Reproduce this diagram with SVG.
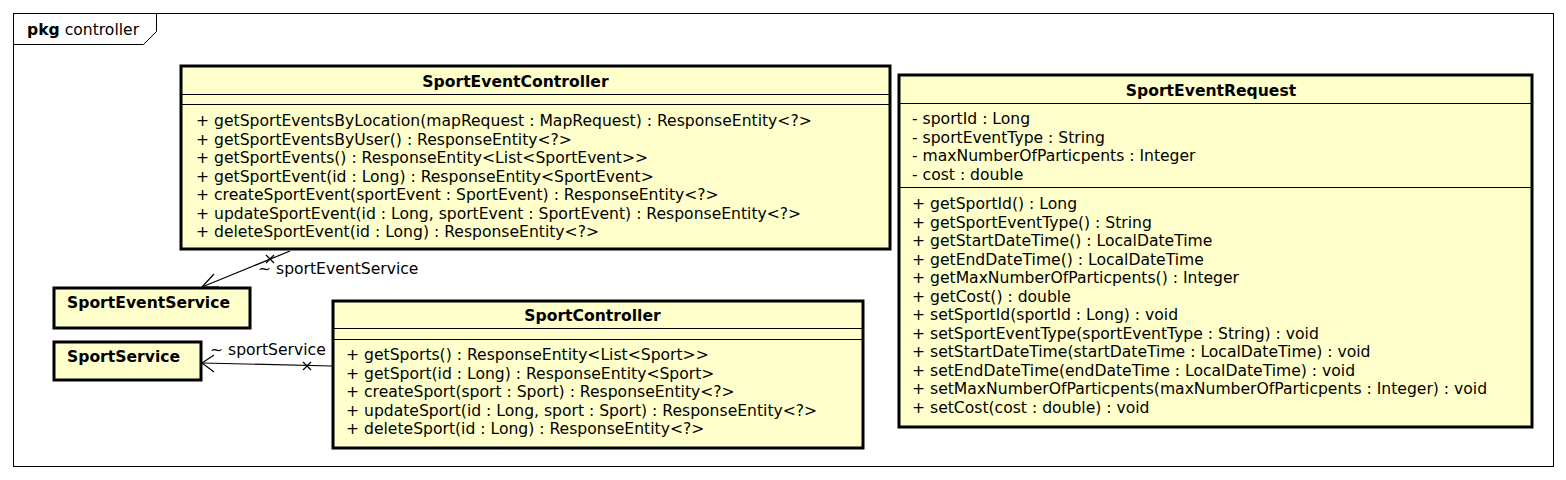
<svg xmlns="http://www.w3.org/2000/svg" width="1566" height="480" viewBox="0 0 1566 480">
<style>
text{font-family:"DejaVu Sans",Verdana,sans-serif;font-size:15.6px;fill:#000}
.t{font-weight:bold;text-anchor:middle}
.b{font-weight:bold}
.box{fill:#ffffcc;stroke:#000;stroke-width:3}
.sep{stroke:#000;stroke-width:1.2}
.ln{stroke:#000;stroke-width:1.2;fill:none}
</style>
<rect width="1566" height="480" fill="#fff"/>
<g id="pkg">
<rect x="13.5" y="13.5" width="1540" height="453" fill="none" stroke="#000" stroke-width="1"/>
<path d="M13.5 44.5 H143.5 L156.5 31.5 V13.5" fill="none" stroke="#000" stroke-width="1"/>
<text x="27" y="35"><tspan font-weight="bold">pkg</tspan> controller</text>
</g>
<g id="SportEventController">
<rect class="box" x="181" y="66" width="709" height="183"/>
<line class="sep" x1="181" y1="94.5" x2="890" y2="94.5"/>
<line class="sep" x1="181" y1="104.5" x2="890" y2="104.5"/>
<text class="t" x="515.5" y="87">SportEventController</text>
<text x="196" y="126">+ getSportEventsByLocation(mapRequest : MapRequest) : ResponseEntity&lt;?&gt;</text>
<text x="196" y="144.5">+ getSportEventsByUser() : ResponseEntity&lt;?&gt;</text>
<text x="196" y="163">+ getSportEvents() : ResponseEntity&lt;List&lt;SportEvent&gt;&gt;</text>
<text x="196" y="181.5">+ getSportEvent(id : Long) : ResponseEntity&lt;SportEvent&gt;</text>
<text x="196" y="200">+ createSportEvent(sportEvent : SportEvent) : ResponseEntity&lt;?&gt;</text>
<text x="196" y="218.5">+ updateSportEvent(id : Long, sportEvent : SportEvent) : ResponseEntity&lt;?&gt;</text>
<text x="196" y="237">+ deleteSportEvent(id : Long) : ResponseEntity&lt;?&gt;</text>
</g>
<g id="SportEventService">
<rect class="box" x="54" y="288" width="196" height="40"/>
<text class="b" x="67" y="308">SportEventService</text>
</g>
<g id="SportService">
<rect class="box" x="54" y="342" width="147" height="38"/>
<text class="b" x="67" y="362">SportService</text>
</g>
<g id="SportController">
<rect class="box" x="333" y="301" width="530" height="147"/>
<line class="sep" x1="333" y1="328.5" x2="863" y2="328.5"/>
<line class="sep" x1="333" y1="339.5" x2="863" y2="339.5"/>
<text class="t" x="592.5" y="321">SportController</text>
<text x="346" y="360">+ getSports() : ResponseEntity&lt;List&lt;Sport&gt;&gt;</text>
<text x="346" y="378.5">+ getSport(id : Long) : ResponseEntity&lt;Sport&gt;</text>
<text x="346" y="397">+ createSport(sport : Sport) : ResponseEntity&lt;?&gt;</text>
<text x="346" y="415.5">+ updateSport(id : Long, sport : Sport) : ResponseEntity&lt;?&gt;</text>
<text x="346" y="434">+ deleteSport(id : Long) : ResponseEntity&lt;?&gt;</text>
</g>
<g id="SportEventRequest">
<rect class="box" x="899" y="75" width="633" height="352"/>
<line class="sep" x1="899" y1="103.5" x2="1532" y2="103.5"/>
<line class="sep" x1="899" y1="187.5" x2="1532" y2="187.5"/>
<text class="t" x="1211" y="96">SportEventRequest</text>
<text x="912" y="124">- sportId : Long</text>
<text x="912" y="142.5">- sportEventType : String</text>
<text x="912" y="161">- maxNumberOfParticpents : Integer</text>
<text x="912" y="179.5">- cost : double</text>
<text x="912" y="209">+ getSportId() : Long</text>
<text x="912" y="227.5">+ getSportEventType() : String</text>
<text x="912" y="246">+ getStartDateTime() : LocalDateTime</text>
<text x="912" y="264.5">+ getEndDateTime() : LocalDateTime</text>
<text x="912" y="283">+ getMaxNumberOfParticpents() : Integer</text>
<text x="912" y="301.5">+ getCost() : double</text>
<text x="912" y="320">+ setSportId(sportId : Long) : void</text>
<text x="912" y="338.5">+ setSportEventType(sportEventType : String) : void</text>
<text x="912" y="357">+ setStartDateTime(startDateTime : LocalDateTime) : void</text>
<text x="912" y="375.5">+ setEndDateTime(endDateTime : LocalDateTime) : void</text>
<text x="912" y="394">+ setMaxNumberOfParticpents(maxNumberOfParticpents : Integer) : void</text>
<text x="912" y="412.5">+ setCost(cost : double) : void</text>
</g>
<g id="connectors">
<g id="c1">
<line class="ln" x1="290" y1="251" x2="202" y2="287"/>
<path class="ln" d="M214 274 L202 287 L219 287"/>
<path class="ln" d="M266 255 L274 263 M266 263 L274 255"/>
<text x="258" y="274">~ sportEventService</text>
</g>
<g id="c2">
<line class="ln" x1="332" y1="366" x2="202" y2="363"/>
<path class="ln" d="M214 355 L202 363 L214 372"/>
<path class="ln" d="M303 362 L311 370 M303 370 L311 362"/>
<text x="210" y="355">~ sportService</text>
</g>
</g>
</svg>
